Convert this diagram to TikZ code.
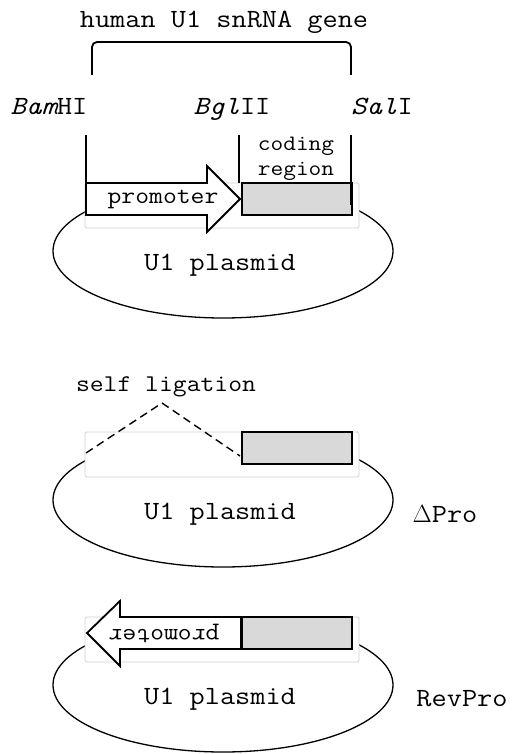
\documentclass[tikz,border=0pt]{standalone}
\usepackage{fontspec}
\setmonofont{Latin Modern Mono}[FakeStretch=1.12]
\begin{document}
\begin{tikzpicture}[x=1pt,y=-1pt,
  lbl/.style={font=\ttfamily\fontsize{26.3}{28}\selectfont, inner sep=0pt},
  smalllbl/.style={font=\ttfamily\fontsize{24}{28}\selectfont, inner sep=0pt},
  framebox/.style={draw=black!18, fill=white, rounded corners=1.5pt, line width=0.8pt},
  plasmid/.style={draw, line width=1.3pt},
  graybox/.style={draw, fill=black!15, line width=1.8pt},
  arrowshape/.style={draw, fill=white, line width=1.8pt, line join=miter},
  thickline/.style={line width=1.8pt},
  ligation/.style={line width=1.4pt, dash pattern=on 8pt off 5pt}]
\useasboundingbox (0,0) rectangle (515,754);

% ---------- top labels ----------
\node[lbl] (gene) at (224,22) {human U1 snRNA gene};
\coordinate (brL) at (92,75);
\coordinate (brR) at (351,75);
\draw[thickline, rounded corners=5pt] (brL) |- (221,42) -| (brR);

\node[lbl, anchor=base] (bam) at (49,115) {\itshape Bam\upshape HI};
\node[lbl, anchor=base] (bgl) at (232,115) {\itshape Bgl\upshape II};
\node[lbl, anchor=base] (sal) at (382,115) {\itshape Sal\upshape I};

% ---------- panel 1 ----------
\draw[plasmid] (223,251) ellipse [x radius=170, y radius=67];
\draw[framebox] (85,183) rectangle (359,228);
\node[lbl] (pl1) at (220,265) {U1 plasmid};
\draw[graybox] (242,183) rectangle (352,215);
\draw[arrowshape] (86,183) -- (207,183) -- (207,166) -- (240,199) -- (207,232) -- (207,215) -- (86,215) -- cycle;
\node[smalllbl] (prom1) at (163,200) {promoter};
\node[font=\ttfamily\fontsize{22}{26}\selectfont, inner sep=0pt, align=center] (coding) at (296,159) {coding\\[-1pt]region};

\coordinate (v1t) at (86,135);  \coordinate (v1b) at (86,183);
\coordinate (v2t) at (239,135); \coordinate (v2b) at (239,183);
\coordinate (v3t) at (351,135); \coordinate (v3b) at (351,205);
\draw[thickline] (v1t) -- (v1b);
\draw[thickline] (v2t) -- (v2b);
\draw[thickline] (v3t) -- (v3b);

% ---------- panel 2 ----------
\node[smalllbl] (self) at (166,387) {self ligation};
\draw[plasmid] (223,500) ellipse [x radius=170, y radius=67];
\draw[framebox] (85,432) rectangle (359,477);
\node[lbl] (pl2) at (220,514) {U1 plasmid};
\draw[graybox] (242,432) rectangle (352,464);
\coordinate (dl) at (86,453);
\coordinate (dtop) at (162,403);
\coordinate (dr) at (240,456);
\draw[ligation] (dl) -- (dtop) -- (dr);
\node[lbl] (dpro) at (445,514) {$\Delta$Pro};

% ---------- panel 3 ----------
\draw[plasmid] (223,685) ellipse [x radius=170, y radius=67];
\draw[framebox] (85,617) rectangle (359,662);
\node[lbl] (pl3) at (220,699) {U1 plasmid};
\draw[graybox] (242,617) rectangle (352,649);
\draw[arrowshape] (241,617) -- (120,617) -- (120,601) -- (87,633) -- (120,666) -- (120,649) -- (241,649) -- cycle;
\node[smalllbl, rotate=180] (prom3) at (164,633) {promoter};
\node[lbl] (rev) at (462,699) {RevPro};
\end{tikzpicture}
\end{document}
